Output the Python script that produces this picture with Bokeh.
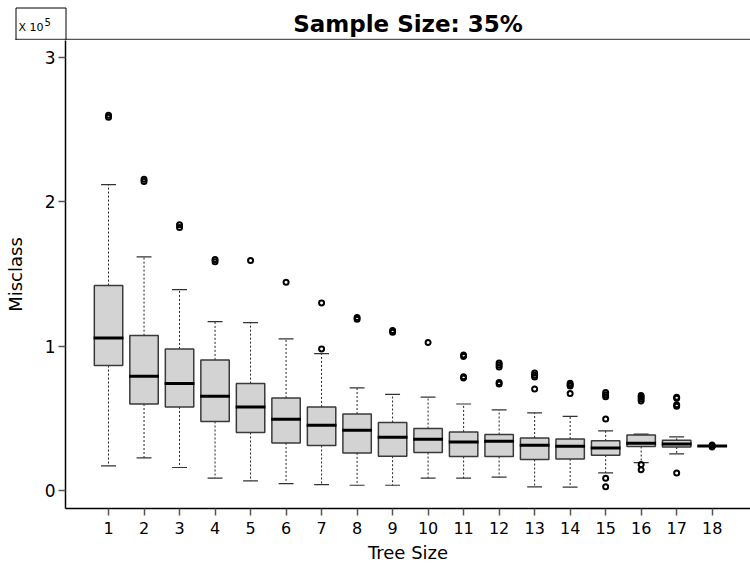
from bokeh.plotting import figure
from bokeh.layouts import column
from bokeh.models import Range1d, FixedTicker, Label
from bokeh.embed import file_html
from bokeh.resources import INLINE

# ---- data (Misclass, units of 10^5) ----
tree_size = list(range(1, 19))
lower  = [0.173, 0.228, 0.162, 0.088, 0.069, 0.051, 0.044, 0.039, 0.039, 0.088, 0.088, 0.095, 0.028, 0.026, 0.124, 0.196, 0.256, 0.311]
q1     = [0.867, 0.601, 0.581, 0.480, 0.404, 0.332, 0.314, 0.263, 0.240, 0.265, 0.238, 0.238, 0.217, 0.221, 0.247, 0.307, 0.304, 0.311]
median = [1.058, 0.793, 0.742, 0.655, 0.581, 0.496, 0.454, 0.420, 0.371, 0.357, 0.339, 0.344, 0.316, 0.309, 0.297, 0.330, 0.325, 0.311]
q3     = [1.420, 1.074, 0.982, 0.906, 0.742, 0.643, 0.581, 0.532, 0.473, 0.431, 0.408, 0.390, 0.366, 0.359, 0.346, 0.387, 0.350, 0.311]
upper  = [2.118, 1.618, 1.392, 1.171, 1.164, 1.051, 0.950, 0.712, 0.668, 0.648, 0.601, 0.560, 0.539, 0.516, 0.415, 0.392, 0.373, 0.311]

outlier_x = [1, 1, 2, 2, 3, 3, 4, 4, 5, 6, 7, 7, 8, 8, 9, 9, 10,
             11, 11, 11, 11,
             12, 12, 12, 12, 12,
             13, 13, 13, 13,
             14, 14, 14, 14,
             15, 15, 15, 15, 15, 15,
             16, 16, 16, 16, 16, 16,
             17, 17, 17, 17, 17,
             18, 18, 18]
outlier_y = [2.598, 2.584, 2.155, 2.140, 1.840, 1.822, 1.600, 1.585, 1.593, 1.443, 1.300, 0.982, 1.200, 1.188, 1.110, 1.098, 1.026,
             0.940, 0.930, 0.790, 0.780,
             0.885, 0.870, 0.857, 0.750, 0.740,
             0.815, 0.800, 0.787, 0.705,
             0.745, 0.735, 0.725, 0.673,
             0.680, 0.665, 0.652, 0.498, 0.088, 0.028,
             0.660, 0.648, 0.635, 0.622, 0.182, 0.146,
             0.648, 0.640, 0.595, 0.586, 0.124,
             0.318, 0.311, 0.304]

y_ticks = [0, 1, 2, 3]
title_text = "Sample Size: 35%"
multiplier_text = "X 10"
multiplier_exp = "5"
x_label = "Tree Size"
y_label = "Misclass"

FONT = "DejaVu Sans"
X0, X1 = -0.2116, 19.079
Y0, Y1 = -0.1217, 3.115

# ---------- header band (title + multiplier box) ----------
h = figure(width=750, height=40, output_backend="svg", toolbar_location=None,
           x_range=Range1d(0, 750), y_range=Range1d(40, 0),
           x_axis_type=None, y_axis_type=None,
           min_border_left=0, min_border_right=0, min_border_top=0, min_border_bottom=0,
           background_fill_color="white", border_fill_color="white")
h.frame_align = False
h.outline_line_color = None
h.xgrid.visible = False
h.ygrid.visible = False
h.segment(x0=[15], y0=[39.2], x1=[750], y1=[39.2], line_color="#555555", line_width=2)
h.quad(left=[15.5], right=[65.5], top=[7.5], bottom=[40], fill_alpha=0,
       line_color="black", line_width=1)
h.add_layout(Label(x=407.5, y=23, text=title_text, text_align="center",
                   text_baseline="middle", text_font=FONT, text_font_style="bold",
                   text_font_size="23px", text_color="black"))
h.add_layout(Label(x=18, y=27, text=multiplier_text, text_align="left",
                   text_baseline="middle", text_font=FONT, text_font_size="11px",
                   text_color="black"))
h.add_layout(Label(x=44, y=21, text=multiplier_exp, text_align="left",
                   text_baseline="middle", text_font=FONT, text_font_size="10px",
                   text_color="black"))

# ---------- main plot ----------
p = figure(width=750, height=528, output_backend="svg", toolbar_location=None,
           x_range=Range1d(X0, X1), y_range=Range1d(Y0, Y1),
           min_border_left=65, min_border_right=0, min_border_top=0, min_border_bottom=60,
           background_fill_color="white", border_fill_color="white")
p.frame_align = False
p.outline_line_color = None
p.xgrid.visible = False
p.ygrid.visible = False

for ax in (p.xaxis[0], p.yaxis[0]):
    ax.axis_line_color = "black"
    ax.axis_line_width = 1.5
    ax.major_tick_line_color = "#555555"
    ax.major_tick_line_width = 1.5
    ax.major_tick_out = 7
    ax.major_tick_in = 0
    ax.minor_tick_line_color = None
    ax.major_label_text_font = FONT
    ax.major_label_text_color = "black"
    ax.axis_label_text_font = FONT
    ax.axis_label_text_font_size = "18px"
    ax.axis_label_text_font_style = "normal"
    ax.axis_label_text_color = "black"

p.xaxis.major_label_text_font_size = "16px"
p.yaxis.major_label_text_font_size = "17px"
p.xaxis.ticker = FixedTicker(ticks=tree_size)
p.yaxis.ticker = FixedTicker(ticks=y_ticks)
p.xaxis.axis_label = x_label
p.yaxis.axis_label = y_label
p.xaxis.major_label_standoff = 6
p.xaxis.axis_label_standoff = 5
p.yaxis.major_label_standoff = 3
p.yaxis.axis_label_standoff = 16

# whiskers
p.segment(x0=tree_size, y0=q3, x1=tree_size, y1=upper, line_color="#222222", line_width=1, line_dash="2 2")
p.segment(x0=tree_size, y0=q1, x1=tree_size, y1=lower, line_color="#222222", line_width=1, line_dash="2 2")
cap_l = [x - 0.21 for x in tree_size]
cap_r = [x + 0.21 for x in tree_size]
p.segment(x0=cap_l, y0=upper, x1=cap_r, y1=upper, line_color="#333333", line_width=1.2)
p.segment(x0=cap_l, y0=lower, x1=cap_r, y1=lower, line_color="#333333", line_width=1.2)

# boxes
p.vbar(x=tree_size, width=0.8, top=q3, bottom=q1, fill_color="#d3d3d3",
       line_color="#3a3a3a", line_width=1.5)
med_l = [x - 0.42 for x in tree_size]
med_r = [x + 0.42 for x in tree_size]
p.segment(x0=med_l, y0=median, x1=med_r, y1=median, line_color="black", line_width=3)

# outliers
p.scatter(x=outlier_x, y=outlier_y, marker="circle", size=5, fill_alpha=0,
          line_color="black", line_width=2)

layout = column(h, p, spacing=0)
open("out.html", "w").write(file_html(layout, INLINE))
